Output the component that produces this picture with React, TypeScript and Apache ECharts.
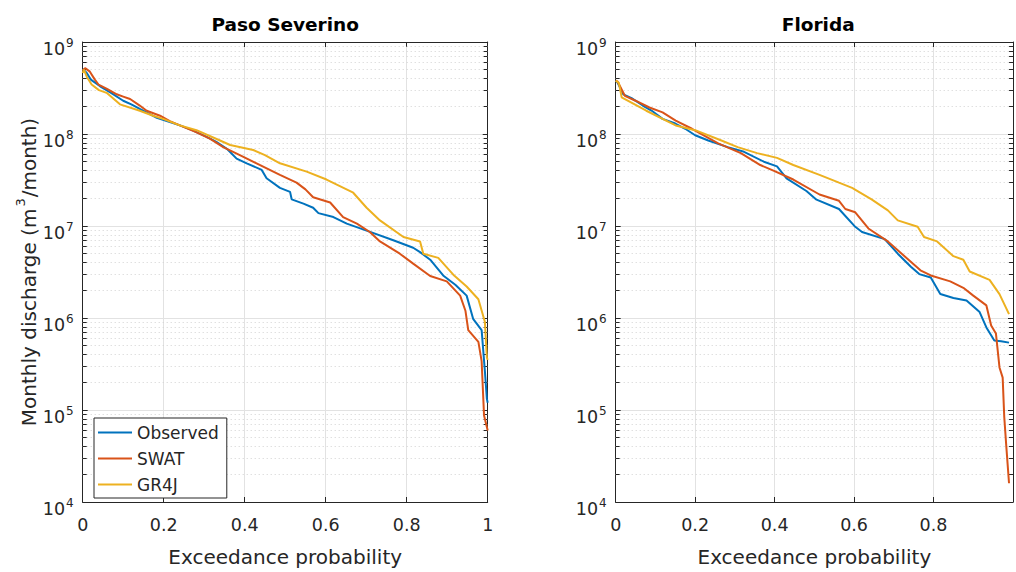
import React, { useEffect, useRef } from "react";
import * as echarts from "echarts";

// ---- data: [exceedance probability, monthly discharge m3/month] ----
const pasoObserved: [number, number][] = [
  [0, 5.1e8], [0.01, 4.6e8], [0.02, 3.9e8], [0.043, 3.3e8], [0.07, 2.8e8], [0.1, 2.3e8],
  [0.12, 2.1e8], [0.141, 1.87e8], [0.16, 1.7e8], [0.183, 1.5e8], [0.2, 1.42e8], [0.24, 1.24e8],
  [0.27, 1.1e8], [0.306, 9.3e7], [0.33, 8.2e7], [0.356, 6.9e7], [0.38, 5.4e7], [0.405, 4.8e7],
  [0.442, 4.07e7], [0.454, 3.3e7], [0.487, 2.6e7], [0.512, 2.35e7], [0.516, 1.95e7], [0.545, 1.75e7],
  [0.569, 1.58e7], [0.582, 1.38e7], [0.619, 1.25e7], [0.652, 1.06e7], [0.701, 8.9e6], [0.767, 7.0e6],
  [0.816, 5.8e6], [0.833, 5.2e6], [0.858, 4.3e6], [0.89, 2.9e6], [0.92, 2.3e6], [0.948, 1.75e6],
  [0.964, 9.8e5], [0.985, 7.4e5], [0.993, 2.66e5], [0.998, 1.32e5], [1.0, 1.2e5],
];
const pasoSwat: [number, number][] = [
  [0, 4.9e8], [0.006, 5.2e8], [0.017, 4.8e8], [0.03, 3.9e8], [0.039, 3.45e8], [0.06, 3.1e8],
  [0.084, 2.7e8], [0.1, 2.55e8], [0.117, 2.4e8], [0.14, 2.05e8], [0.158, 1.79e8], [0.191, 1.58e8],
  [0.215, 1.38e8], [0.24, 1.24e8], [0.28, 1.05e8], [0.314, 8.9e7], [0.347, 7.2e7], [0.388, 5.9e7],
  [0.438, 4.6e7], [0.487, 3.6e7], [0.528, 2.96e7], [0.55, 2.5e7], [0.569, 2.05e7], [0.611, 1.8e7],
  [0.643, 1.25e7], [0.677, 1.06e7], [0.709, 8.6e6], [0.734, 6.8e6], [0.783, 5.0e6], [0.816, 3.9e6],
  [0.858, 2.86e6], [0.899, 2.5e6], [0.932, 1.75e6], [0.945, 1.2e6], [0.952, 7.4e5], [0.977, 5.5e5],
  [0.985, 3.4e5], [0.991, 8.7e4], [1.0, 6.0e4],
];
const pasoGr4j: [number, number][] = [
  [0, 4.6e8], [0.003, 5.0e8], [0.01, 4.2e8], [0.022, 3.45e8], [0.04, 3.0e8], [0.059, 2.8e8],
  [0.092, 2.1e8], [0.141, 1.79e8], [0.174, 1.58e8], [0.2, 1.45e8], [0.24, 1.24e8], [0.281, 1.1e8],
  [0.339, 8.5e7], [0.364, 7.6e7], [0.421, 6.7e7], [0.45, 5.9e7], [0.487, 4.8e7], [0.553, 3.9e7],
  [0.602, 3.2e7], [0.668, 2.3e7], [0.701, 1.58e7], [0.734, 1.15e7], [0.792, 7.6e6], [0.833, 6.8e6],
  [0.841, 5.0e6], [0.878, 4.5e6], [0.915, 2.96e6], [0.948, 2.2e6], [0.977, 1.6e6], [0.993, 9.1e5],
  [0.998, 3.7e5], [1.0, 3.5e5],
];
const floridaObserved: [number, number][] = [
  [0, 3.8e8], [0.005, 3.6e8], [0.019, 2.7e8], [0.04, 2.45e8], [0.068, 2.04e8], [0.09, 1.8e8],
  [0.118, 1.46e8], [0.15, 1.3e8], [0.175, 1.14e8], [0.2, 9.7e7], [0.233, 8.5e7], [0.282, 7.2e7],
  [0.323, 6.4e7], [0.373, 5.0e7], [0.406, 4.45e7], [0.43, 3.3e7], [0.48, 2.4e7], [0.504, 1.95e7],
  [0.562, 1.53e7], [0.603, 9.8e6], [0.62, 8.6e6], [0.677, 7.2e6], [0.71, 5.0e6], [0.743, 3.6e6],
  [0.764, 3.0e6], [0.793, 2.75e6], [0.817, 1.82e6], [0.85, 1.65e6], [0.883, 1.55e6], [0.916, 1.16e6],
  [0.933, 7.9e5], [0.953, 5.7e5], [0.97, 5.6e5], [0.99, 5.4e5],
];
const floridaSwat: [number, number][] = [
  [0, 3.8e8], [0.005, 3.7e8], [0.023, 2.6e8], [0.05, 2.3e8], [0.085, 1.94e8], [0.118, 1.72e8],
  [0.151, 1.4e8], [0.192, 1.14e8], [0.258, 7.9e7], [0.315, 6.2e7], [0.364, 4.6e7], [0.397, 4.0e7],
  [0.447, 3.2e7], [0.513, 2.2e7], [0.562, 1.88e7], [0.578, 1.53e7], [0.603, 1.41e7], [0.636, 9.4e6],
  [0.685, 6.8e6], [0.727, 4.7e6], [0.767, 3.3e6], [0.793, 2.9e6], [0.842, 2.5e6], [0.875, 2.13e6],
  [0.9, 1.75e6], [0.933, 1.37e6], [0.945, 8.3e5], [0.957, 6.8e5], [0.966, 2.9e5], [0.974, 2.25e5],
  [0.978, 8.4e4], [0.983, 4.1e4], [0.99, 1.6e4],
];
const floridaGr4j: [number, number][] = [
  [0, 3.8e8], [0.008, 3.6e8], [0.015, 2.5e8], [0.077, 1.79e8], [0.151, 1.24e8], [0.2, 1.1e8],
  [0.266, 8.5e7], [0.307, 7.2e7], [0.356, 6.2e7], [0.406, 5.5e7], [0.447, 4.6e7], [0.513, 3.6e7],
  [0.562, 2.96e7], [0.595, 2.6e7], [0.644, 1.95e7], [0.685, 1.48e7], [0.71, 1.15e7], [0.76, 9.8e6],
  [0.776, 7.6e6], [0.809, 6.8e6], [0.85, 4.7e6], [0.875, 4.3e6], [0.891, 3.2e6], [0.941, 2.6e6],
  [0.966, 1.82e6], [0.99, 1.1e6],
];

const seriesNames = ["Observed", "SWAT", "GR4J"];
const panelTitles = ["Paso Severino", "Florida"];
const xTickStep = 0.2;
const yMin = 1e4;
const yMax = 1e9;
const minorValues: number[] = [];
for (let e = 4; e < 9; e++) for (let m = 2; m <= 9; m++) minorValues.push(m * Math.pow(10, e));

const COLORS = ["#0072BD", "#D95319", "#EDB120"];
const FONT = "'DejaVu Sans', 'Liberation Sans', Arial, sans-serif";
const INK = "#262626";

export default function App() {
  const ref = useRef<HTMLDivElement>(null);
  useEffect(() => {
    if (!ref.current) return;
    const chart = echarts.init(ref.current, undefined, { renderer: "svg" });
    const grids = [
      { left: 82.7, top: 42, width: 405, height: 467.5 },
      { left: 615.7, top: 42, width: 405, height: 467.5 },
    ];
    const xAxes: any[] = [];
    const yAxes: any[] = [];
    const series: any[] = [];
    const panelData = [
      [pasoObserved, pasoSwat, pasoGr4j],
      [floridaObserved, floridaSwat, floridaGr4j],
    ];
    grids.forEach((_, gi) => {
      // bottom x axis
      xAxes.push({
        type: "value", gridIndex: gi, min: 0, max: 1, interval: xTickStep, position: "bottom",
        axisLine: { show: true, onZero: false, lineStyle: { color: INK, width: 1 } },
        axisTick: { show: true, inside: true, length: 5, lineStyle: { color: INK } },
        axisLabel: {
          show: true, margin: 14, color: INK, fontSize: 17.5, fontFamily: FONT,
          formatter: (v: number) => (gi === 1 && v >= 1 ? "" : String(Math.round(v * 10) / 10)),
        },
        splitLine: { show: true, lineStyle: { color: "#e2e2e2", width: 1 } },
        name: "Exceedance probability", nameLocation: "middle", nameGap: 45,
        nameTextStyle: { color: INK, fontSize: 20, fontFamily: FONT },
      });
      // top x axis (box)
      xAxes.push({
        type: "value", gridIndex: gi, min: 0, max: 1, interval: xTickStep, position: "top",
        axisLine: { show: true, onZero: false, lineStyle: { color: INK, width: 1 } },
        axisTick: { show: true, inside: true, length: 5, lineStyle: { color: INK } },
        axisLabel: { show: false }, splitLine: { show: false },
      });
      yAxes.push({
        type: "log", logBase: 10, gridIndex: gi, min: yMin, max: yMax, position: "left",
        axisLine: { show: true, onZero: false, lineStyle: { color: INK, width: 1 } },
        axisTick: { show: true, inside: true, length: 5, lineStyle: { color: INK } },
        axisLabel: {
          show: true, margin: 9, color: INK, fontFamily: FONT,
          formatter: (v: number) => `{b|10}{s|${Math.round(Math.log10(v))}}`,
          rich: {
            b: { fontSize: 17.5, lineHeight: 17, padding: [6, 0, 0, 0], verticalAlign: "top", color: INK, fontFamily: FONT },
            s: { fontSize: 12, lineHeight: 12, padding: [3, 0, 0, 1], verticalAlign: "top", color: INK, fontFamily: FONT },
          },
        },
        splitLine: { show: true, lineStyle: { color: "#e2e2e2", width: 1 } },
        ...(gi === 0
          ? {
              name: "{a|Monthly discharge (m}{s|3}{a|/month)}",
              nameLocation: "middle", nameGap: 41, nameRotate: 90,
              nameTextStyle: {
                rich: {
                  a: { fontSize: 20, lineHeight: 20, padding: [6, 0, 0, 0], verticalAlign: "top", color: INK, fontFamily: FONT },
                  s: { fontSize: 13, lineHeight: 13, padding: [1, 1, 0, 2], verticalAlign: "top", color: INK, fontFamily: FONT },
                },
              },
            }
          : {}),
      });
      yAxes.push({
        type: "log", logBase: 10, gridIndex: gi, min: yMin, max: yMax, position: "right",
        axisLine: { show: true, onZero: false, lineStyle: { color: INK, width: 1 } },
        axisTick: { show: true, inside: true, length: 5, lineStyle: { color: INK } },
        axisLabel: { show: false }, splitLine: { show: false },
      });
      const xi = gi * 2;
      const yi = gi * 2;
      // minor grid lines (dotted)
      series.push({
        type: "line", name: "_minorGrid" + gi, xAxisIndex: xi, yAxisIndex: yi, data: [], silent: true, z: 1,
        markLine: {
          silent: true, symbol: ["none", "none"], label: { show: false }, animation: false,
          lineStyle: { color: "#d2d2d2", type: [1, 3], width: 1 },
          emphasis: { disabled: true },
          data: minorValues.map((v) => ({ yAxis: v })),
        },
      });
      // minor ticks at left & right edges
      const tl = 4 / 405;
      series.push({
        type: "line", name: "_minorTick" + gi, xAxisIndex: xi, yAxisIndex: yi, data: [], silent: true, z: 3,
        markLine: {
          silent: true, symbol: ["none", "none"], label: { show: false }, animation: false,
          lineStyle: { color: INK, type: "solid", width: 1 },
          emphasis: { disabled: true },
          data: minorValues.flatMap((v) => [
            [{ coord: [0, v] }, { coord: [tl, v] }],
            [{ coord: [1 - tl, v] }, { coord: [1, v] }],
          ]),
        },
      });
      panelData[gi].forEach((d, si) => {
        series.push({
          type: "line", name: seriesNames[si], xAxisIndex: xi, yAxisIndex: yi,
          data: d, showSymbol: false, symbol: "none", z: 5,
          lineStyle: { color: COLORS[si], width: 2 },
          itemStyle: { color: COLORS[si] },
          emphasis: { disabled: true },
        });
      });
    });

    chart.setOption({
      animation: false,
      backgroundColor: "#ffffff",
      textStyle: { fontFamily: FONT },
      grid: grids,
      xAxis: xAxes,
      yAxis: yAxes,
      series,
      legend: {
        data: seriesNames,
        orient: "vertical",
        left: 94, top: 418,
        padding: [6, 8, 5, 4],
        itemWidth: 34, itemHeight: 2.2, itemGap: 9,
        icon: "rect",
        backgroundColor: "#ffffff",
        borderColor: INK, borderWidth: 1, borderRadius: 0,
        selectedMode: false,
        textStyle: { fontSize: 17, lineHeight: 17, color: INK, fontFamily: FONT, padding: [0, 0, 0, 0] },
        z: 10,
      },
      graphic: panelTitles.map((t, i) => ({
        type: "text",
        x: grids[i].left + grids[i].width / 2,
        y: 24.5,
        style: {
          text: t, fill: "#000000", font: `bold 18.5px ${FONT}`,
          align: "center", verticalAlign: "middle", textAlign: "center", textVerticalAlign: "middle",
        },
      })),
    });
    return () => chart.dispose();
  }, []);
  return <div ref={ref} style={{ position: "absolute", left: 0, top: 0, width: 1016, height: 572 }} />;
}
